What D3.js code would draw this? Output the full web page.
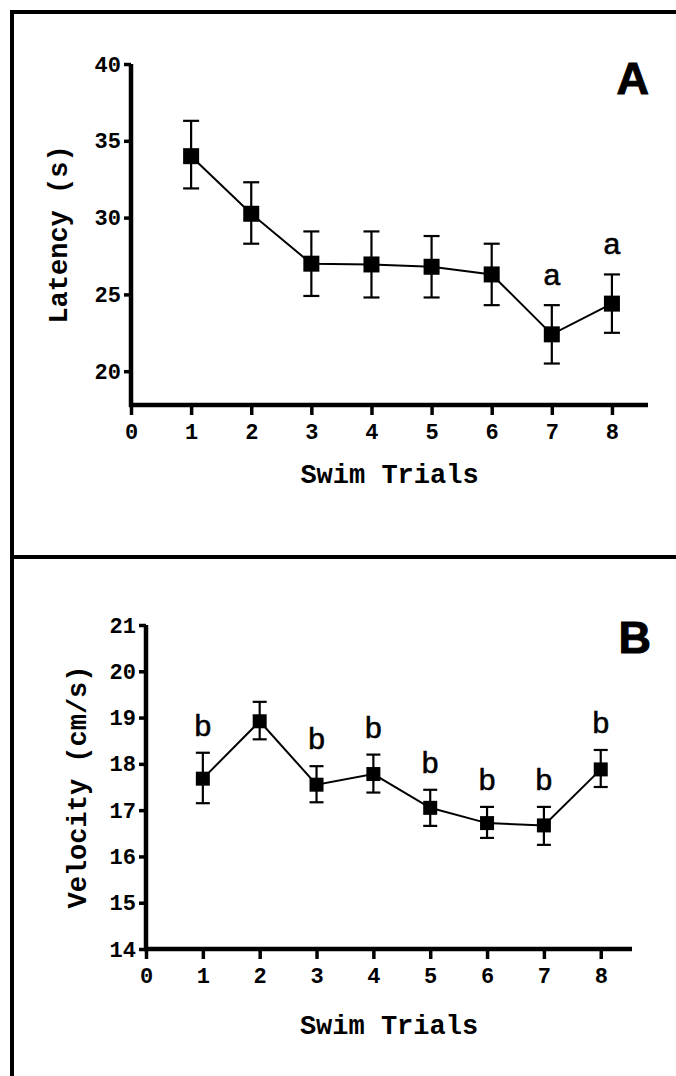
<!DOCTYPE html>
<html>
  <body style="margin:0;background:#fff">
    <style>
      .tick text { font-family: "Liberation Mono", monospace; font-weight: bold; font-size: 22px; }
      .title { font-family: "Liberation Mono", monospace; font-weight: bold; font-size: 27px; }
      .sig { font-family: "Liberation Sans", Arial, sans-serif; font-size: 30px; stroke: #000; stroke-width: 0.6px; }
      .panel { font-family: "Liberation Sans", Arial, sans-serif; font-weight: bold; font-size: 45px; stroke: #000; stroke-width: 1px; }
    </style>
    <script src="https://d3js.org/d3.v7.min.js"></script>
    <script type="text/javascript">
      const trials = [1, 2, 3, 4, 5, 6, 7, 8];
      const xTicks = [0, 1, 2, 3, 4, 5, 6, 7, 8];

      // panel A: latency
      const latency = [34.0, 30.25, 27.0, 26.95, 26.8, 26.3, 22.4, 24.4];
      const latencyHi = [36.3, 32.3, 29.1, 29.1, 28.8, 28.3, 24.3, 26.3];
      const latencyLo = [31.9, 28.3, 24.9, 24.8, 24.8, 24.3, 20.5, 22.5];
      const latencyMarks = ['', '', '', '', '', '', 'a', 'a'];
      const latencyTicks = [20, 25, 30, 35, 40];

      // panel B: velocity
      const velocity = [17.68, 18.92, 17.55, 17.78, 17.05, 16.72, 16.67, 17.88];
      const velocityHi = [18.24, 19.34, 17.95, 18.2, 17.44, 17.07, 17.07, 18.3];
      const velocityLo = [17.15, 18.53, 17.17, 17.38, 16.66, 16.4, 16.25, 17.5];
      const velocityMarks = ['b', '', 'b', 'b', 'b', 'b', 'b', 'b'];
      const velocityTicks = [14, 15, 16, 17, 18, 19, 20, 21];

      const width = 676;
      const height = 1076;

      const svg = d3.select('body')
        .append('svg')
        .attr('width', width)
        .attr('height', height)

      // frame
      svg.append('line').attr('x1', 12).attr('x2', 12).attr('y1', 10).attr('y2', height)
        .attr('stroke', '#000').attr('stroke-width', 4)
      svg.append('line').attr('x1', 10).attr('x2', width).attr('y1', 12).attr('y2', 12)
        .attr('stroke', '#000').attr('stroke-width', 4)
      svg.append('line').attr('x1', 10).attr('x2', width).attr('y1', 557).attr('y2', 557)
        .attr('stroke', '#000').attr('stroke-width', 4)

      function panel(opts) {
        const xScale = d3.scaleLinear().domain(opts.xDomain).range(opts.xRange);
        const yScale = d3.scaleLinear().domain(opts.yDomain).range(opts.yRange);
        const g = svg.append('g');

        const yAxis = g.append('g')
          .attr('transform', `translate(${opts.xRange[0]},0)`)
          .call(d3.axisLeft(yScale).tickValues(opts.yTicks).tickSize(7).tickSizeOuter(0).tickPadding(3).tickFormat(d3.format('d')))
        yAxis.select('.domain').attr('stroke-width', 4.5)
          .attr('d', `M0,${opts.yRange[0] + 2}V${opts.yRange[1]}`)
        yAxis.selectAll('.tick line').attr('stroke-width', 3.5)
        yAxis.selectAll('.tick text').attr('fill', '#000')

        const xAxis = g.append('g')
          .attr('transform', `translate(0,${opts.yRange[0]})`)
          .call(d3.axisBottom(xScale).tickValues(xTicks).tickSize(10).tickSizeOuter(0).tickPadding(8).tickFormat(d3.format('d')))
        xAxis.select('.domain').attr('stroke-width', 4.5)
          .attr('d', `M${opts.xRange[0] - 2},0H${opts.xRange[1]}`)
        xAxis.selectAll('.tick line').attr('stroke-width', 3.5)
        xAxis.selectAll('.tick text').attr('fill', '#000')

        g.append('text')
          .attr('class', 'title')
          .attr('x', (opts.xRange[0] + opts.xRange[1]) / 2)
          .attr('y', opts.yRange[0] + opts.xTitleGap)
          .attr('text-anchor', 'middle')
          .text('Swim Trials')

        g.append('text')
          .attr('class', 'title')
          .attr('transform', `translate(${opts.yTitleX},${(opts.yRange[0] + opts.yRange[1]) / 2}) rotate(-90)`)
          .attr('text-anchor', 'middle')
          .attr('dy', '0.35em')
          .text(opts.yTitle)

        g.append('text')
          .attr('class', 'panel')
          .attr('x', opts.letterX)
          .attr('y', opts.letterY)
          .attr('text-anchor', 'end')
          .text(opts.letter)

        const rows = trials.map((t, i) => ({
          t: t, v: opts.values[i], hi: opts.hi[i], lo: opts.lo[i], mark: opts.marks[i]
        }));

        const line = d3.line()
          .x((d) => xScale(d.t))
          .y((d) => yScale(d.v))

        g.append('path')
          .datum(rows)
          .attr('d', line)
          .attr('fill', 'none')
          .attr('stroke', '#000')
          .attr('stroke-width', 2)

        const err = g.append('g')
          .selectAll('g')
          .data(rows)
          .enter()
          .append('g')
          .attr('stroke', '#000')
          .attr('stroke-width', 2.2)

        err.append('line')
          .attr('x1', (d) => xScale(d.t)).attr('x2', (d) => xScale(d.t))
          .attr('y1', (d) => yScale(d.hi)).attr('y2', (d) => yScale(d.lo))
        err.append('line')
          .attr('x1', (d) => xScale(d.t) - opts.cap).attr('x2', (d) => xScale(d.t) + opts.cap)
          .attr('y1', (d) => yScale(d.hi)).attr('y2', (d) => yScale(d.hi))
        err.append('line')
          .attr('x1', (d) => xScale(d.t) - opts.cap).attr('x2', (d) => xScale(d.t) + opts.cap)
          .attr('y1', (d) => yScale(d.lo)).attr('y2', (d) => yScale(d.lo))

        g.append('g')
          .selectAll('rect')
          .data(rows)
          .enter()
          .append('rect')
          .attr('x', (d) => xScale(d.t) - opts.box / 2)
          .attr('y', (d) => yScale(d.v) - opts.box / 2)
          .attr('width', opts.box)
          .attr('height', opts.box)
          .attr('fill', '#000')

        g.append('g')
          .selectAll('text')
          .data(rows.filter((d) => d.mark))
          .enter()
          .append('text')
          .attr('class', 'sig')
          .attr('x', (d) => xScale(d.t))
          .attr('y', (d) => yScale(d.hi) - opts.markGap)
          .attr('text-anchor', 'middle')
          .text((d) => d.mark)
      }

      panel({
        xDomain: [0, 8.6], xRange: [131, 648],
        yDomain: [17.8, 40], yRange: [405, 64],
        yTicks: latencyTicks, values: latency, hi: latencyHi, lo: latencyLo, marks: latencyMarks,
        yTitle: 'Latency (s)', yTitleX: 58, xTitleGap: 78,
        letter: 'A', letterX: 649, letterY: 94,
        cap: 8, box: 16, markGap: 20,
      })

      panel({
        xDomain: [0, 8.55], xRange: [146, 632],
        yDomain: [14, 21], yRange: [949, 625],
        yTicks: velocityTicks, values: velocity, hi: velocityHi, lo: velocityLo, marks: velocityMarks,
        yTitle: 'Velocity (cm/s)', yTitleX: 77, xTitleGap: 85,
        letter: 'B', letterX: 651, letterY: 653,
        cap: 7, box: 14, markGap: 17,
      })

    </script>
  </body>
</html>
